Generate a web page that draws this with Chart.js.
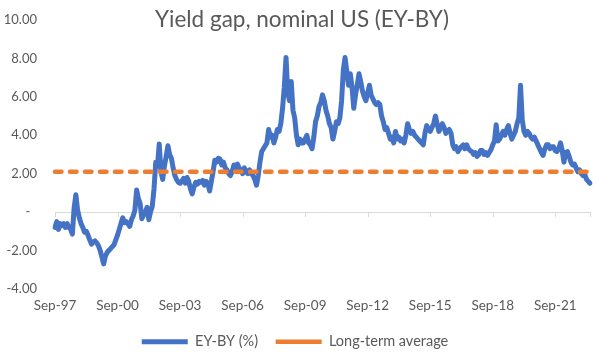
<!DOCTYPE html>
<html>
<head>
<meta charset="utf-8">
<script src="https://cdn.jsdelivr.net/npm/chart.js@4.4.0/dist/chart.umd.min.js"></script>
<style>
  html, body { margin: 0; padding: 0; background: #fff; }
</style>
</head>
<body>
<canvas id="yieldgap" width="604" height="354"></canvas>
<script>
// EY-BY (%), one reading per month starting Sep-97
const eyBy = [
    -0.8, -0.5, -0.9, -0.6, -0.7, -0.6, -0.8, -0.6, -0.8, -0.9, -1.15, 0.2,
    0.9, 0.1, -0.3, -0.6, -0.8, -1.05, -1.0, -1.2, -1.45, -1.67, -1.55, -1.5,
    -1.6, -1.75, -2.0, -2.35, -2.7, -2.3, -2.1, -2.0, -1.9, -1.8, -1.7, -1.45,
    -1.2, -0.9, -0.6, -0.3, -0.55, -0.5, -0.6, -0.75, -0.4, -0.2, 0.1, 1.15,
    0.7, 0.45, -0.35, -0.15, 0.0, 0.25, -0.4, 0.0, 0.3, 1.2, 2.6, 2.4,
    3.55, 2.1, 1.7, 2.4, 2.9, 3.45, 3.0, 2.8, 2.3, 1.9, 1.7, 1.55,
    1.5, 1.6, 1.75, 1.5, 1.8, 1.6, 1.2, 0.95, 1.3, 1.55, 1.45, 1.6,
    1.55, 1.65, 1.4, 1.6, 1.5, 1.1, 1.6, 2.1, 2.7, 2.6, 2.8, 2.75,
    2.45, 2.6, 2.3, 2.2, 2.0, 1.9, 2.1, 2.45, 2.3, 2.5, 2.3, 2.15,
    2.0, 2.3, 2.1, 2.0, 2.2, 2.0, 1.9, 1.7, 1.4, 1.9, 2.6, 3.15,
    3.3, 3.45, 3.6, 4.3, 3.9, 4.0, 3.6, 3.9, 4.3, 4.2, 4.6, 5.4,
    6.5, 8.05, 6.2, 5.8, 6.8, 5.3, 4.9, 4.0, 3.5, 3.8, 3.6, 3.6,
    3.8, 4.0, 3.6, 3.5, 3.3, 3.9, 4.7, 5.0, 5.5, 5.7, 6.1, 5.8,
    5.3, 5.0, 4.6, 4.4, 3.8, 4.2, 4.7, 4.6, 4.9, 5.8, 7.4, 8.05,
    7.3, 6.6, 7.2, 6.5, 5.4, 6.1, 6.6, 7.2, 6.8, 6.3, 6.0, 5.8,
    6.2, 6.6, 6.1, 5.9, 5.7, 5.6, 5.7, 5.6, 5.0, 4.7, 4.3, 4.4,
    4.1, 3.8, 3.9, 3.6, 4.2, 3.8, 3.9, 3.7, 3.8, 3.6, 4.0, 4.6,
    4.3, 4.1, 4.2, 4.0, 3.9, 3.8, 3.7, 3.6, 3.5, 4.1, 4.5, 4.3,
    4.2, 4.4, 4.6, 5.0, 4.6, 4.2, 4.4, 4.6, 4.4, 4.1, 4.2, 4.3,
    4.1, 3.5, 3.3, 3.4, 3.15, 3.3, 3.4, 3.5, 3.3, 3.5, 3.3, 3.2,
    3.15, 3.0, 3.1, 2.9, 3.0, 3.2, 3.2, 3.0, 3.1, 2.95, 3.1, 3.25,
    3.5, 3.7, 4.55, 3.7, 3.8, 4.0, 4.2, 4.0, 4.3, 4.5, 4.1, 3.8,
    4.0, 4.2, 4.6, 4.9, 6.6, 4.8, 4.2, 4.0, 4.2, 4.1, 3.9, 3.8,
    3.9, 3.7, 3.5, 3.3, 3.1, 2.95, 3.3, 3.5, 3.5, 3.3, 3.4, 3.4,
    3.2, 3.15, 3.3, 3.6, 3.2, 2.6, 3.1, 3.15, 2.9, 2.6, 2.45, 2.5,
    2.3, 2.1, 2.2, 2.0, 1.9, 1.95, 1.7, 1.6, 1.5
]

const longTermAverage = 2.1

const tickLabels = ['Sep-97', 'Sep-00', 'Sep-03', 'Sep-06', 'Sep-09', 'Sep-12', 'Sep-15', 'Sep-18', 'Sep-21']

const monthNames = ['Jan', 'Feb', 'Mar', 'Apr', 'May', 'Jun', 'Jul', 'Aug', 'Sep', 'Oct', 'Nov', 'Dec']

// category labels: one per month from Sep-97
const months = eyBy.map((v, i) => {
    const n = 8 + i
    const yy = (1997 + Math.floor(n / 12)) % 100
    return monthNames[n % 12] + '-' + String(yy).padStart(2, '0')
})

const TEXT = '#595959'
const AXIS = '#d9d9d9'
const FONT = 'Lato'

// title sits in the same row as the top tick label, so draw it by hand
const titlePlugin = {
    id: 'titleText',
    afterDraw(chart) {
        const ctx = chart.ctx
        ctx.save()
        ctx.font = '22.5px ' + FONT
        ctx.fillStyle = TEXT
        ctx.textAlign = 'center'
        ctx.textBaseline = 'middle'
        ctx.fillText('Yield gap, nominal US (EY-BY)', chart.width / 2, 20)
        ctx.restore()
    }
}

// small tick marks hanging off the zero line
const zeroTicks = {
    id: 'zeroTicks',
    beforeDatasetsDraw(chart) {
        const x = chart.scales.x
        const y0 = chart.scales.y.getPixelForValue(0)
        const ctx = chart.ctx
        ctx.save()
        ctx.strokeStyle = AXIS
        ctx.lineWidth = 1
        ctx.beginPath()
        months.forEach((m, i) => {
            if (tickLabels.includes(m) || i === months.length - 1) {
                const px = Math.round(x.getPixelForValue(i)) + 0.5
                ctx.moveTo(px, y0)
                ctx.lineTo(px, y0 + 5)
            }
        })
        ctx.stroke()
        ctx.restore()
    }
}

new Chart(document.getElementById('yieldgap'), {
    type: 'line',
    data: {
        labels: months,
        datasets: [
            {
                label: 'EY-BY (%)',
                data: eyBy,
                borderColor: '#4472C4',
                backgroundColor: '#4472C4',
                borderWidth: 5,
                pointRadius: 0,
                tension: 0,
                borderCapStyle: 'round',
                borderJoinStyle: 'round',
                order: 2,
            },
            {
                label: 'Long-term average',
                data: months.map(() => longTermAverage),
                borderColor: '#ED7D31',
                backgroundColor: '#ED7D31',
                borderWidth: 4.5,
                borderDash: [6.5, 8.5],
                borderCapStyle: 'round',
                pointRadius: 0,
                order: 1,
            }
        ]
    },
    options: {
        responsive: false,
        animation: false,
        layout: {
            padding: { top: 20, right: 14, left: 0, bottom: -5 }
        },
        plugins: {
            legend: {
                position: 'bottom',
                labels: {
                    usePointStyle: true,
                    pointStyle: 'line',
                    pointStyleWidth: 46,
                    padding: 17.6,
                    color: TEXT,
                    font: { family: FONT, size: 14.5 },
                    sort: (a, b) => a.datasetIndex - b.datasetIndex,
                }
            },
            tooltip: { enabled: false },
        },
        scales: {
            x: {
                type: 'category',
                offset: false,
                afterFit: (scale) => { scale.height = 28 },
                grid: { display: false, drawTicks: false },
                border: { display: false },
                ticks: {
                    autoSkip: false,
                    maxRotation: 0,
                    padding: 9,
                    color: TEXT,
                    font: { family: FONT, size: 13.5 },
                    callback: (value, index) => tickLabels.includes(months[index]) ? months[index] : '',
                }
            },
            y: {
                min: -4,
                max: 10,
                afterFit: (scale) => {
                    scale.width = 55
                    scale.paddingTop = 0
                    scale.paddingBottom = 0
                },
                border: { display: false },
                grid: {
                    drawTicks: false,
                    color: (c) => c.tick && c.tick.value === 0 ? AXIS : 'rgba(0,0,0,0)',
                },
                ticks: {
                    stepSize: 2,
                    padding: 18,
                    color: TEXT,
                    font: { family: FONT, size: 13 },
                    callback: (v) => v === 0 ? '-  ' : v.toFixed(2),
                }
            }
        }
    },
    plugins: [titlePlugin, zeroTicks]
})
</script>
</body>
</html>
